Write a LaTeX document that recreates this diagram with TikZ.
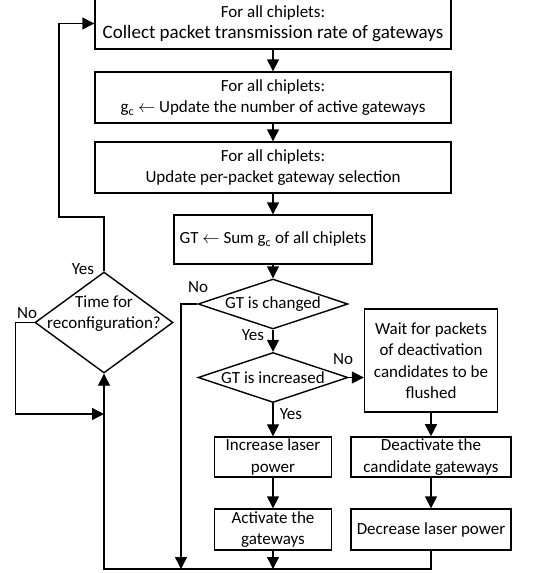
\documentclass[tikz,border=0pt]{standalone}
\usepackage{fontspec}
\setmainfont{Carlito}
\usetikzlibrary{shapes,arrows.meta,positioning}

\begin{document}
\begin{tikzpicture}[
    x=1pt, y=-1pt,
    node distance=72pt,
    line width=1.4pt,
    font=\fontsize{17}{21.5}\selectfont,
    process node/.style={rectangle,draw,align=center,inner sep=2pt},
    wide node/.style={process node,minimum width=356pt,minimum height=51pt},
    decision node/.style={diamond,draw,align=center,aspect=3,inner sep=0pt,minimum width=150pt,minimum height=50pt},
    label node/.style={inner sep=1pt},
    flow/.style={-{Triangle[length=12pt,width=12pt]}}
]
\useasboundingbox (0,0) rectangle (554,573);

% Main column
\node[wide node] (collect) at (273,23.5) {For all chiplets:\\{\fontsize{19}{23}\selectfont Collect packet transmission rate of gateways}};
\node[wide node, below of=collect, node distance=74pt] (update) {For all chiplets:\\g\textsubscript{c} $\leftarrow$ Update the number of active gateways};
\node[wide node, below of=update, node distance=70pt] (select) {For all chiplets:\\Update per-packet gateway selection};
\node[process node, below of=select, minimum width=198pt, minimum height=49pt] (sum) {GT $\leftarrow$ Sum g\textsubscript{c} of all chiplets};
\node[decision node, below of=sum, node distance=64.5pt] (changed) {GT is changed};
\node[decision node, below of=changed, node distance=73.5pt] (increased) {GT is increased};
\node[process node, below of=increased, node distance=79.5pt, minimum width=117pt, minimum height=40pt] (laserup) {Increase laser\\power};
\node[process node, below of=laserup, node distance=72.5pt, minimum width=117pt, minimum height=41pt] (activate) {Activate the\\gateways};

% Right column
\node[process node, right of=increased, node distance=158pt, yshift=17pt, minimum width=133pt, minimum height=103pt] (wait) {Wait for packets\\of deactivation\\candidates to be\\flushed};
\node[process node, right of=laserup, node distance=158pt, minimum width=160pt, minimum height=40pt] (deactivate) {Deactivate the\\candidate gateways};
\node[process node, below of=deactivate, node distance=72.5pt, minimum width=160pt, minimum height=41pt] (laserdown) {Decrease laser power};

% Reconfiguration check
\node[decision node, minimum width=138pt, minimum height=101pt, label={[align=center,yshift=9pt]center:Time for\\reconfiguration?}] (reconf) at (104,322.5) {};

% Corners
\coordinate (yesturn) at (59,217);
\coordinate (loopbl) at (104,569);
\coordinate (nochg) at (181,569);
\coordinate (noin) at (104,414);

% Arrows
\draw[flow] (collect) -- (update);
\draw[flow] (update) -- (select);
\draw[flow] (select) -- (sum);
\draw[flow] (sum) -- (changed);
\draw[flow] (changed) -- (increased);
\draw[flow] (increased) -- (laserup);
\draw[flow] (laserup) -- (activate);
\draw[flow] (increased.east) -- (increased.east -| wait.west);
\draw[flow] (wait) -- (deactivate);
\draw[flow] (deactivate) -- (laserdown);
\draw[flow] (activate) -- (activate |- loopbl);
\draw[flow] (changed.west) -| (nochg);
\draw[flow] (laserdown.south) |- (loopbl) -- (reconf.south);
\draw[flow] (reconf.west) -- ++(-19,0) |- (noin);
\draw[flow] (reconf.north) |- (yesturn) |- (collect.west);

% Branch labels
\node[label node] (yesreconf) at (83,269) {Yes};
\node[label node] (noreconf) at (27,313) {No};
\node[label node] (nochanged) at (198,287) {No};
\node[label node] (yeschanged) at (253,335) {Yes};
\node[label node] (noincreased) at (343,359) {No};
\node[label node] (yesincreased) at (291,414) {Yes};

\end{tikzpicture}
\end{document}
